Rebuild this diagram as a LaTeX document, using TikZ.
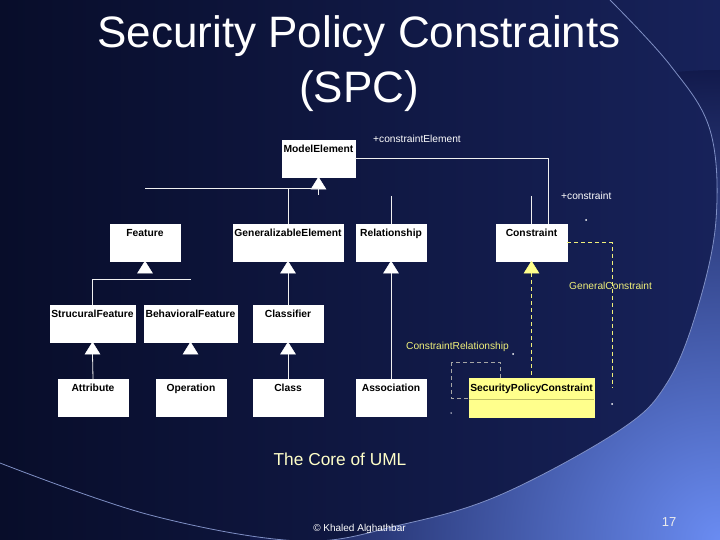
\documentclass[tikz,border=0pt]{standalone}
\usepackage{fontspec}
\setmainfont{Liberation Sans}
\usetikzlibrary{calc}
\definecolor{bgdark}{HTML}{080D2A}
\definecolor{bgmid}{HTML}{17225A}
\definecolor{arcin}{HTML}{6A8CF2}
\definecolor{arcout}{HTML}{121A4C}
\definecolor{arcline}{HTML}{7F8FC4}
\definecolor{ylw}{HTML}{F0F07A}
\definecolor{spcfill}{HTML}{FFFF8C}
\definecolor{caption}{HTML}{FFFFC8}
\begin{document}
\begin{tikzpicture}[x=1pt,y=-1pt,
  cls/.style={draw=white, fill=white, inner xsep=1, inner ysep=1, minimum height=37,
    text height=11.5, text depth=23.5, text=black,
    font=\fontsize{10.3}{12}\selectfont\bfseries},
  spcbox/.style={cls, draw=spcfill, fill=spcfill},
  tri/.style={draw=white, fill=white, line width=0.4},
  ytri/.style={draw=spcfill, fill=spcfill, line width=0.4},
  lnk/.style={draw=white!88!gray, line width=0.8},
  ylnk/.style={draw=ylw, line width=0.8, dash pattern=on 4pt off 3pt},
  glnk/.style={draw=gray!70, line width=0.7, dash pattern=on 4pt off 3pt},
  lbl/.style={anchor=base west, inner sep=0, font=\fontsize{10.2}{12}\selectfont},
  dot/.style={fill=white, draw=none, circle, inner sep=0, minimum size=2}
]
\useasboundingbox (0,0) rectangle (720,540);
% background
\shade[left color=bgdark, right color=bgmid] (0,0) rectangle (720,540);
\begin{scope}
  \clip plot[smooth, tension=0.6] coordinates {(0,463) (150,515) (300,541) (400,525) (500,495) (620,430) (667,383) (697,310) (716,220) (710,130) (670,65) (610,0)} -- (720,0) -- (720,540) -- (0,540) -- cycle;
  \shade[inner color=arcin, outer color=arcout] (720,540) circle (470);
\end{scope}
\draw[arcline, line width=0.8] plot[smooth, tension=0.6] coordinates {(0,463) (150,515) (300,541) (400,525) (500,495) (620,430) (667,383) (697,310) (716,220) (710,130) (670,65) (610,0)};

% title
\node[anchor=base, text=white, font=\fontsize{44}{50}\selectfont] (t1) at (359,48) {Security Policy Constraints};
\node[anchor=base, text=white, font=\fontsize{44}{50}\selectfont] (t2) at (359,103) {(SPC)};

% constraint relationship self association (partly behind SPC)
\draw[glnk] (451,362) rectangle (500,398);

% classes
\node[cls, minimum width=73] (me) at (318.5,158.5) {ModelElement};
\node[cls, minimum width=70] (feat) at (145,242.5) {Feature};
\node[cls, minimum width=110] (ge) at (288,242.5) {GeneralizableElement};
\node[cls, minimum width=70] (rel) at (391,242.5) {Relationship};
\node[cls, minimum width=71] (con) at (531.5,242.5) {Constraint};
\node[cls, minimum width=85] (sf) at (92.5,323.5) {StrucuralFeature};
\node[cls, minimum width=93] (bf) at (190.5,323.5) {BehavioralFeature};
\node[cls, minimum width=70] (cl) at (288,323.5) {Classifier};
\node[cls, minimum width=70] (att) at (93,397.5) {Attribute};
\node[cls, minimum width=70] (op) at (191,397.5) {Operation};
\node[cls, minimum width=70] (clss) at (288,397.5) {Class};
\node[cls, minimum width=70] (asc) at (391,397.5) {Association};
\node[spcbox, minimum width=125, minimum height=39] (spc) at (531.5,397.5) {SecurityPolicyConstraint};
\draw[draw=ylw!80!black, line width=0.4] ($(spc.west)+(0,1.5)$) -- ($(spc.east)+(0,1.5)$);

% generalization triangles
\foreach \n in {me,feat,ge,rel,sf,bf,cl}{
  \draw[tri] (\n.south) -- ++(-7.5,12) -- ++(15,0) -- cycle;
}
\draw[ytri] (con.south) -- ++(-7.5,12) -- ++(15,0) -- cycle;

% connectors
\coordinate (meb) at ($(me.south)+(0,12)$);
\coordinate (hl) at ($(feat.north)+(0,-35)$);
\draw[lnk] (meb) -- ++(0,6);
\draw[lnk] (hl) -- (meb |- hl);
\draw[lnk] (ge.north |- hl) -- (ge.north);
\draw[lnk] ($(rel.north)+(0,-28)$) -- (rel.north);
\draw[lnk] ($(con.north)+(0,-28)$) -- (con.north);
\draw[lnk] (me.east) -| ($(con.north)+(16.5,0)$);

\coordinate (fh) at ($(feat.south)+(0,18)$);
\draw[lnk] (sf.north |- fh) -- ($(bf.north |- fh)$);
\draw[lnk] (sf.north |- fh) -- (sf.north);
\draw[lnk] ($(ge.south)+(0,12)$) -- (cl.north);
\draw[lnk] ($(sf.south)+(0,12)$) -- (att.north);
\draw[lnk] ($(cl.south)+(0,12)$) -- (clss.north);
\draw[lnk] ($(rel.south)+(0,12)$) -- (asc.north);
\draw[ylnk] ($(con.south)+(0,12)$) -- (spc.north);
\coordinate (gcend) at (612,388);
\draw[ylnk] (con.east) -| (gcend);

% labels
\node[lbl, text=white] (l1) at (373,143) {+constraintElement};
\node[lbl, text=white] (l2) at (561,200) {+constraint};
\node[lbl, text=ylw] (l3) at (569,289) {GeneralConstraint};
\node[lbl, text=ylw] (l4) at (406,349) {ConstraintRelationship};
\node[dot] (d1) at (586,220) {};
\node[dot] (d2) at (612,404) {};
\node[dot] (d3) at (513,354) {};
\node[dot, minimum size=1.5] (d4) at (451,413) {};

% captions
\node[anchor=base, text=caption, font=\fontsize{17.3}{20}\selectfont] (cap) at (340,465) {The Core of UML};
\node[anchor=base, text=white, font=\fontsize{10}{12}\selectfont] (auth) at (359.5,531.5) {© Khaled Alghathbar};
\node[anchor=base, text=white!85!gray, font=\fontsize{13}{15}\selectfont] (pg) at (669,526) {17};
\end{tikzpicture}
\end{document}
